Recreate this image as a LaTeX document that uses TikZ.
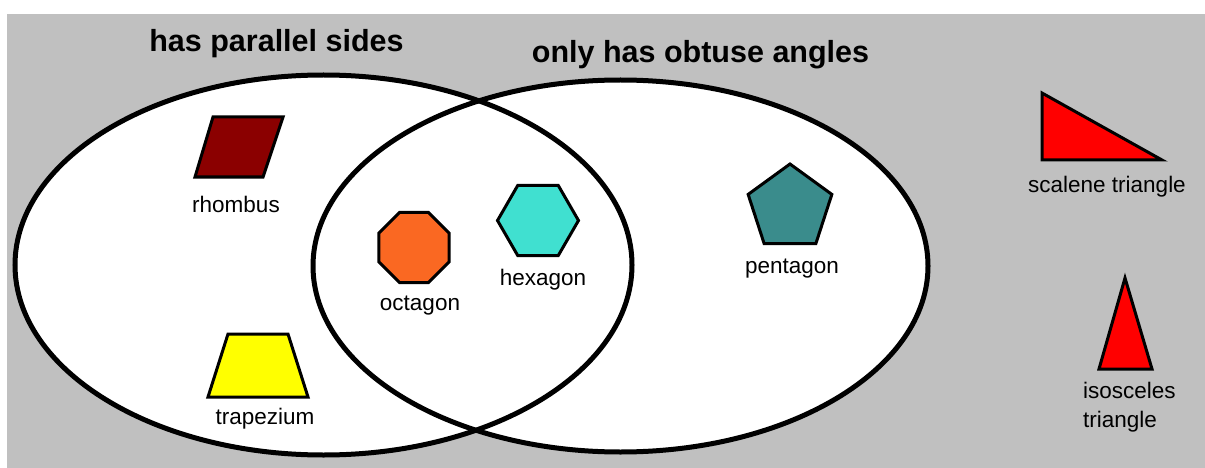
\documentclass[tikz,border=0pt]{standalone}
\usepackage{fontspec}
\setmainfont{Liberation Sans}
\usetikzlibrary{shapes.geometric}
\definecolor{bggray}{RGB}{192,192,192}
\definecolor{rhombred}{RGB}{139,0,0}
\definecolor{octorange}{RGB}{250,104,34}
\definecolor{hexturq}{RGB}{64,224,208}
\definecolor{pentteal}{RGB}{58,140,140}
\definecolor{trired}{RGB}{255,0,0}
\definecolor{trapyellow}{RGB}{255,255,0}
\begin{document}
\begin{tikzpicture}[x=1pt,y=-1pt,
  setline/.style={line width=5pt},
  shapeline/.style={draw=black, line width=3pt, line join=miter},
  poly/.style={regular polygon, shapeline, inner sep=0pt, outer sep=0pt},
  title/.style={font=\fontsize{30.5}{36}\selectfont\bfseries, anchor=base, inner sep=0pt},
  lbl/.style={font=\fontsize{22.5}{29}\selectfont, anchor=base, inner sep=0pt}]
\useasboundingbox (0,0) rectangle (1205,468);
\fill[bggray] (7,14) rectangle (1205,468);
% set regions
\fill[white] (323.5,265) ellipse [x radius=308.5, y radius=190];
\fill[white] (620.5,266) ellipse [x radius=307.5, y radius=186];
\draw[setline] (323.5,265) ellipse [x radius=308.5, y radius=190];
\draw[setline] (620.5,266) ellipse [x radius=307.5, y radius=186];
% titles
\node[title] (tA) at (276.5,52) {has parallel sides};
\node[title] (tB) at (700.5,63) {only has obtuse angles};
% rhombus
\filldraw[shapeline, fill=rhombred] (213,117) -- (283,117) -- (263,177) -- (195,177) -- cycle;
\node[lbl] (lRh) at (236,212) {rhombus};
% trapezium
\filldraw[shapeline, fill=trapyellow] (228,334) -- (288,334) -- (308,397) -- (208,397) -- cycle;
\node[lbl] (lTr) at (265,424) {trapezium};
% octagon
\node[poly, regular polygon sides=8, minimum size=75.8pt, fill=octorange] (oct) at (414,247.5) {};
\node[lbl] (lOc) at (420,310) {octagon};
% hexagon
\node[poly, regular polygon sides=6, minimum size=81pt, fill=hexturq] (hex) at (538,220.5) {};
\node[lbl] (lHx) at (543,285) {hexagon};
% pentagon
\node[poly, regular polygon sides=5, minimum size=88pt, fill=pentteal] (pent) at (790,208) {};
\node[lbl] (lPt) at (792,273) {pentagon};
% scalene triangle
\filldraw[shapeline, fill=trired] (1042,93) -- (1162,160) -- (1042,160) -- cycle;
\node[lbl] (lSc) at (1107,193) {scalene triangle};
% isosceles triangle
\filldraw[shapeline, fill=trired] (1125,278) -- (1152,369) -- (1099,369) -- cycle;
\node[lbl, anchor=base west] (lIs1) at (1083,398) {isosceles};
\node[lbl, anchor=base west] (lIs2) at (1083,427) {triangle};
\end{tikzpicture}
\end{document}
